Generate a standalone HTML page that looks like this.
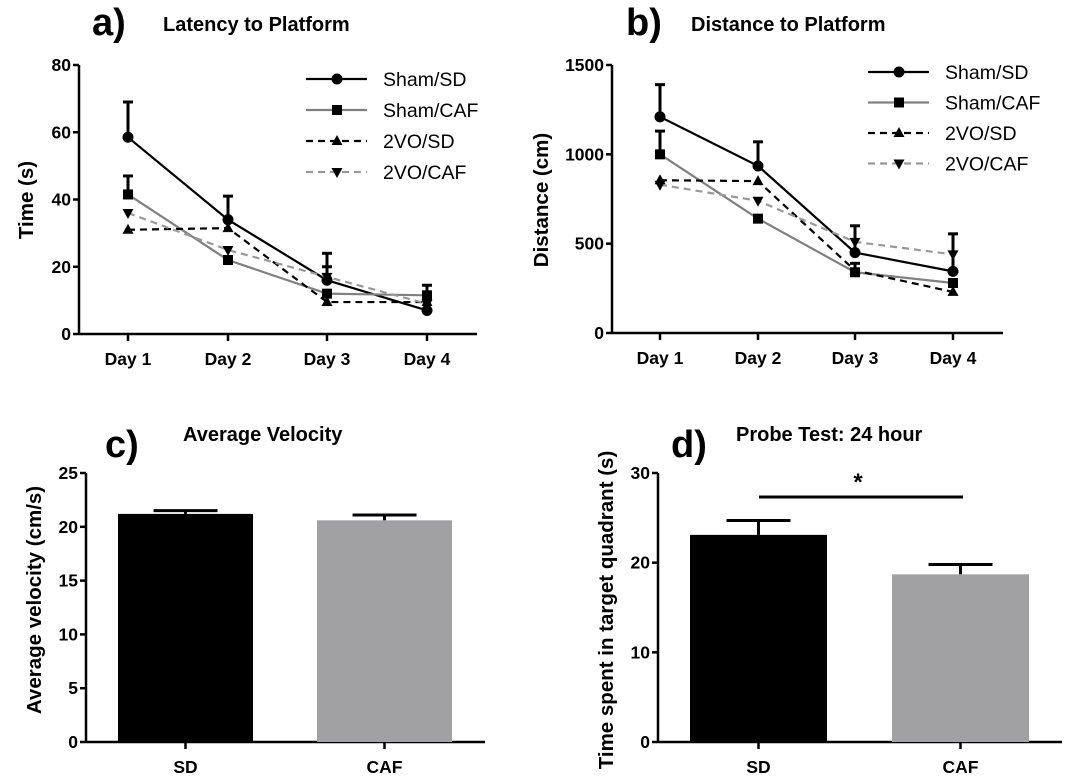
<!DOCTYPE html>
<html><head><meta charset="utf-8"><style>
body{margin:0;background:#fff;}
svg{display:block;font-family:"Liberation Sans",Arial,sans-serif;}
.tk{font-size:17.5px;font-weight:bold;}
.tt{font-size:20px;font-weight:bold;}
.pl{font-size:38px;font-weight:bold;}
.lg{font-size:19.5px;}
.yt{font-size:20.5px;font-weight:bold;}
</style></head><body>
<svg id="s" width="1071" height="782" viewBox="0 0 1071 782">
<text x="92" y="35" class="pl">a)</text>
<text x="163" y="31" class="tt">Latency to Platform</text>
<text x="626" y="35" class="pl">b)</text>
<text x="691" y="31" class="tt">Distance to Platform</text>
<text x="105" y="457" class="pl">c)</text>
<text x="183" y="441" class="tt">Average Velocity</text>
<text x="671" y="457" class="pl">d)</text>
<text x="736" y="441" class="tt">Probe Test: 24 hour</text>
<g id="g"></g>
</svg>
<script>
const days=["Day 1","Day 2","Day 3","Day 4"];
const seriesNames=["Sham/SD","Sham/CAF","2VO/SD","2VO/CAF"];
const latMean=[[58.5,34,16,7],[41.5,22,12,11.5],[31,31.5,9.5,9.5],[36,25,17,9]];
const latErr=[[10.5,7,8,0],[5.5,0,0,3],[0,0,0,0],[0,0,3,0]];
const latTicks=[0,20,40,60,80];
const distMean=[[1210,935,450,345],[1000,640,340,280],[855,850,350,230],[830,740,510,440]];
const distErr=[[180,135,150,210],[130,0,50,0],[0,0,0,0],[0,0,0,0]];
const distTicks=[0,500,1000,1500];
const barCats=["SD","CAF"];
const velMean=[21.2,20.6];
const velErr=[0.3,0.5];
const velTicks=[0,5,10,15,20,25];
const probeMean=[23.1,18.7];
const probeErr=[1.6,1.1];
const probeTicks=[0,10,20,30];

const NS="http://www.w3.org/2000/svg";
const G=document.getElementById('g');
function mk(t,a,p){const e=document.createElementNS(NS,t);for(const k in a)e.setAttribute(k,a[k]);(p||G).appendChild(e);return e;}
const styles=[{c:"#000",d:"",m:"circle"},{c:"#808080",d:"",m:"square"},{c:"#000",d:"7,5",m:"tri"},{c:"#999",d:"7,5",m:"tridown"}];
function marker(m,x,y,col,p){
  if(m==="circle")return mk('circle',{cx:x,cy:y,r:5.5,fill:"#000"},p);
  if(m==="square")return mk('rect',{x:x-5,y:y-5,width:10,height:10,fill:"#000"},p);
  if(m==="tri")return mk('polygon',{points:`${x},${y-6} ${x-5.5},${y+4} ${x+5.5},${y+4}`,fill:"#000"},p);
  return mk('polygon',{points:`${x},${y+6} ${x-5.5},${y-4} ${x+5.5},${y-4}`,fill:"#000"},p);
}
function axes(x0,x1,y0,y1,ticks,max,xs,labels,ytitle,ytx,yty){
  const ys=v=>y0-(v/max)*(y0-y1);
  mk('line',{x1:x0,y1:y1,x2:x0,y2:y0,stroke:"#000","stroke-width":2.5});
  mk('line',{x1:x0,y1:y0,x2:x1,y2:y0,stroke:"#000","stroke-width":2.5});
  ticks.forEach(t=>{
    const l=mk('line',{x1:x0-6,y1:ys(t),x2:x0,y2:ys(t),stroke:"#000","stroke-width":2.5});
    
    
    const tx=mk('text',{x:x0-8,y:ys(t)+6,"text-anchor":"end",class:"tk"});tx.textContent=t;
    
    
  });
  xs.forEach((x,i)=>{
    mk('line',{x1:x,y1:y0,x2:x,y2:y0+7,stroke:"#000","stroke-width":2.5});
    const tx=mk('text',{x:x,y:y0+31,"text-anchor":"middle",class:"tk"});tx.textContent=labels[i];
    
    
  });
  const yt=mk('text',{x:ytx,y:yty,"text-anchor":"middle",class:"yt",transform:`rotate(-90 ${ytx} ${yty})`});yt.textContent=ytitle;
  
  
  return ys;
}
function lineChart(x0,x1,y0,y1,ticks,max,xs,means,errs,ytitle,ytx,yty,lgx,lgy,lgs,name){
  const ys=axes(x0,x1,y0,y1,ticks,max,xs,days,ytitle,ytx,yty);
  means.forEach((ser,s)=>{
    const st=styles[s];
    const g=mk('g',{});
    
    
    mk('polyline',{points:ser.map((v,i)=>xs[i]+","+ys(v)).join(" "),fill:"none",stroke:st.c,"stroke-width":2.2,"stroke-dasharray":st.d},g);
    ser.forEach((v,i)=>{
      const e=errs[s][i];
      if(e>0){
        mk('line',{x1:xs[i],y1:ys(v),x2:xs[i],y2:ys(v+e),stroke:"#000","stroke-width":3},g);
        mk('line',{x1:xs[i]-5,y1:ys(v+e),x2:xs[i]+5,y2:ys(v+e),stroke:"#000","stroke-width":3},g);
      }
      const m=marker(st.m,xs[i],ys(v),st.c,g);
      
      
    });
    const ly=lgy+s*lgs;
    const lg=mk('g',{});
    
    
    mk('line',{x1:lgx,y1:ly,x2:lgx+61,y2:ly,stroke:st.c,"stroke-width":2.2,"stroke-dasharray":st.d},lg);
    marker(st.m,lgx+31,ly,st.c,lg);
    const t=mk('text',{x:lgx+77,y:ly+7,class:"lg"},lg);t.textContent=seriesNames[s];
  });
}
function barChart(x0,x1,y0,y1,ticks,max,lefts,w,means,errs,ytitle,ytx,yty,name){
  const xs=lefts.map(l=>l+w/2);
  const ys=axes(x0,x1,y0,y1,ticks,max,xs,barCats,ytitle,ytx,yty);
  means.forEach((v,i)=>{
    const e=errs[i],cx=xs[i];
    mk('line',{x1:cx,y1:ys(v),x2:cx,y2:ys(v+e),stroke:"#000","stroke-width":3});
    mk('line',{x1:cx-32,y1:ys(v+e),x2:cx+32,y2:ys(v+e),stroke:"#000","stroke-width":3});
    const r=mk('rect',{x:lefts[i],y:ys(v),width:w,height:y0-ys(v),fill:i?"#a1a1a4":"#000"});
    
    
  });
  return {ys,xs};
}
lineChart(79,477,334,65,latTicks,80,[128,228,327,427],latMean,latErr,"Time (s)",33,200,306,79,31,"latency");
lineChart(612,1003,333,65,distTicks,1500,[660,758,855,953],distMean,distErr,"Distance (cm)",548,200,868,72,30.5,"distance");
barChart(86,485,742,473,velTicks,25,[118,317],135,velMean,velErr,"Average velocity (cm/s)",41,600,"velocity");
const pr=barChart(658,1062,742,473,probeTicks,30,[690,892],137,probeMean,probeErr,"Time spent in target quadrant (s)",613,610,"probe");
const sig=mk('line',{x1:759,y1:497,x2:963,y2:497,stroke:"#000","stroke-width":3});


const st=mk('text',{x:858,y:490,"text-anchor":"middle",style:"font-size:24px;font-weight:bold"});st.textContent="*";


</script>
</body></html>
